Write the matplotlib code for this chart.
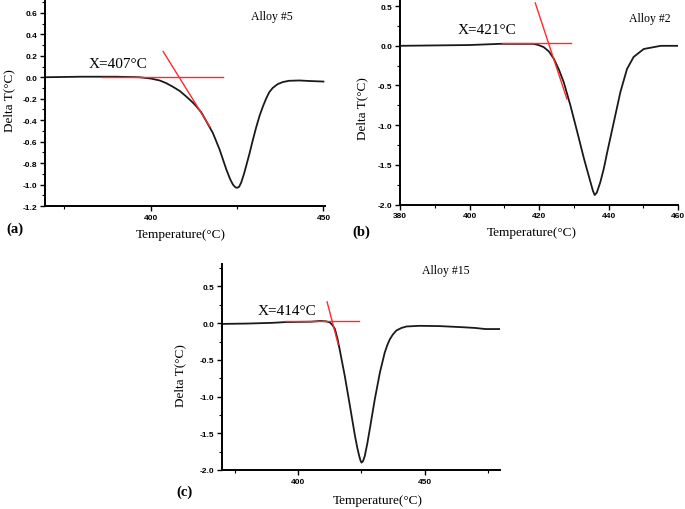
import matplotlib.pyplot as plt
import numpy as np
from matplotlib.ticker import MultipleLocator, FormatStrFormatter

plt.switch_backend('Agg')

# (a) Alloy #5
temp_a = [369, 380, 390, 396.8, 400, 402.6, 404.5, 406.5, 408.5, 410.3, 412, 413.2, 414.7,
          416.1, 418, 419.9, 421.9, 423, 423.8, 424.5, 425, 425.6, 426.2, 427, 427.6, 428.6,
          429.6, 430.5, 431.5, 432.5, 433.4, 434.3, 435.3, 436.7, 438.2, 440, 443, 446, 450]
dt_a = [0.0, 0.005, 0.005, 0.0, -0.012, -0.03, -0.055, -0.09, -0.13, -0.18, -0.23, -0.27,
        -0.33, -0.41, -0.52, -0.67, -0.86, -0.95, -1.0, -1.025, -1.03, -1.02, -0.98, -0.9,
        -0.83, -0.71, -0.58, -0.47, -0.36, -0.27, -0.20, -0.14, -0.10, -0.065, -0.045,
        -0.033, -0.03, -0.035, -0.04]
base_a = ([385.8, 420.9], [0.003, 0.003])
tang_a = ([403.6, 417.1], [0.24, -0.46])

# (b) Alloy #2
temp_b = [380, 390, 400, 408.8, 418.4, 419.8, 421.3, 422.8, 424.2, 425.7, 427.1, 429, 431,
          432.9, 434.8, 435.5, 436, 436.6, 437.6, 438.6, 439.6, 441.5, 443.4, 445.3, 447.2,
          450.1, 455, 460]
dt_b = [0.0, 0.005, 0.01, 0.025, 0.025, 0.01, -0.016, -0.07, -0.16, -0.30, -0.46, -0.75,
        -1.09, -1.42, -1.72, -1.83, -1.88, -1.85, -1.72, -1.55, -1.34, -0.96, -0.58, -0.29,
        -0.14, -0.04, 0.0, 0.0]
base_b = ([409.3, 429.3], [0.034, 0.034])
tang_b = ([418.9, 428.0], [0.54, -0.67])

# (c) Alloy #15
temp_c = [370, 380, 390, 395, 400.7, 405, 408.6, 411, 412.5, 413.5, 414.5, 415.5, 416.5,
          418.4, 420.4, 422.4, 423.3, 424.1, 424.6, 425, 425.6, 426.3, 427.3, 428.3, 430.3,
          432.3, 434.2, 435.2, 436.2, 437.5, 438.8, 440.8, 442.8, 448, 456, 465, 470, 474,
          480]
dt_c = [-0.01, -0.005, 0.005, 0.015, 0.018, 0.02, 0.03, 0.025, 0.01, -0.025, -0.08, -0.21,
        -0.38, -0.72, -1.12, -1.53, -1.69, -1.81, -1.87, -1.90, -1.88, -1.81, -1.64, -1.44,
        -1.03, -0.67, -0.40, -0.30, -0.22, -0.15, -0.10, -0.065, -0.045, -0.036, -0.04,
        -0.055, -0.065, -0.08, -0.08]
base_c = ([394.7, 424.1], [0.03, 0.03])
tang_c = ([411.4, 415.8], [0.29, -0.29])

serif = 'Liberation Serif'
sans = 'Liberation Sans'

fig = plt.figure(figsize=(6.85, 5.1), dpi=100)


def make_panel(rect, temp, dt, base, tang, xlim, ylim, xmaj, xmin, ymaj, ymin,
               onset, onset_xy, alloy, alloy_xy, tag, tag_xy, xlab_xy, ylab_xy):
    ax = fig.add_axes(rect)
    ax.plot(temp, dt, color='#1a1a1a', linewidth=1.3, zorder=2)
    ax.plot(base[0], base[1], color='#ff2a2a', linewidth=1.0, zorder=3)
    ax.plot(tang[0], tang[1], color='#ff2a2a', linewidth=1.0, zorder=3)
    ax.set_xlim(*xlim)
    ax.set_ylim(*ylim)
    for s in ['top', 'right']:
        ax.spines[s].set_visible(False)
    for s in ['left', 'bottom']:
        ax.spines[s].set_linewidth(1.4)
    ax.xaxis.set_major_locator(MultipleLocator(xmaj))
    ax.xaxis.set_minor_locator(MultipleLocator(xmin))
    ax.yaxis.set_major_locator(MultipleLocator(ymaj))
    ax.yaxis.set_minor_locator(MultipleLocator(ymin))
    ax.yaxis.set_major_formatter(FormatStrFormatter('%.1f'))
    ax.tick_params(which='major', direction='out', length=3.5, width=1.0, pad=2)
    ax.tick_params(which='minor', direction='out', length=2, width=0.8)
    for lab in ax.get_xticklabels() + ax.get_yticklabels():
        lab.set_fontfamily(sans)
        lab.set_fontweight('bold')
        lab.set_fontsize(6)
    ax.text(onset_xy[0], onset_xy[1], onset, family=serif, fontsize=11,
            va='center', ha='left')
    ax.text(alloy_xy[0], alloy_xy[1], alloy, family=serif, fontsize=8.5,
            va='center', ha='left')
    ax.set_xlabel('Temperature(°C)', family=serif, fontsize=9.5)
    ax.xaxis.set_label_coords(xlab_xy[0], xlab_xy[1])
    ax.set_ylabel('Delta T(°C)', family=serif, fontsize=9.5)
    ax.yaxis.set_label_coords(ylab_xy[0], ylab_xy[1])
    fig.text(tag_xy[0], tag_xy[1], tag, family=serif, fontsize=10.5,
             fontweight='bold', va='center', ha='left')
    return ax


make_panel([0.0657, 0.594, 0.409, 0.402], temp_a, dt_a, base_a, tang_a,
           (369.4, 450.5), (-1.2, 0.71), 50, 25, 0.2, 0.1,
           'X=407°C', (381.9, 0.13), 'Alloy #5', (429, 0.575),
           '(a)', (0.010, 0.551), (0.486, -0.105), (-0.107, 0.52))

make_panel([0.584, 0.597, 0.406, 0.403], temp_b, dt_b, base_b, tang_b,
           (380, 460), (-2.0, 0.59), 20, 10, 0.5, 0.25,
           'X=421°C', (396.5, 0.2), 'Alloy #2', (446, 0.35),
           '(b)', (0.515, 0.545), (0.475, -0.105), (-0.115, 0.47))

make_panel([0.3236, 0.0765, 0.406, 0.403], temp_c, dt_c, base_c, tang_c,
           (369.7, 479.7), (-2.0, 0.80), 50, 25, 0.5, 0.25,
           'X=414°C', (383.8, 0.17), 'Alloy #15', (449, 0.73),
           '(c)', (0.258, 0.035), (0.56, -0.115), (-0.128, 0.466))

plt.savefig('out.png', dpi=100)
